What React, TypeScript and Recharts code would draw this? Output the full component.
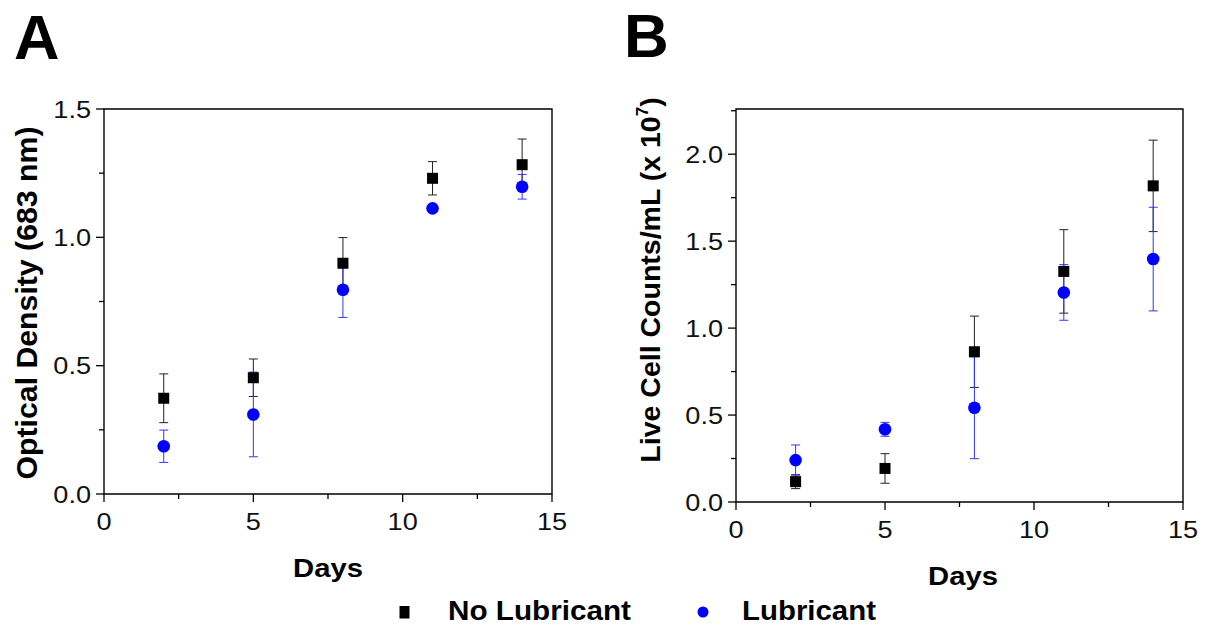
import React from "react";
import { ScatterChart, Scatter, XAxis, YAxis, ErrorBar, ReferenceArea } from "recharts";

// sampling days (shared by both panels)
const days = [2, 5, 8, 11, 14];

// panel A: optical density (683 nm)
const odNoLub = [0.373, 0.453, 0.899, 1.23, 1.283];
const odNoLubErr = [0.095, 0.073, 0.1, 0.065, 0.1];
const odLub = [0.186, 0.31, 0.796, 1.113, 1.197];
const odLubErr = [0.063, 0.165, 0.108, 0.015, 0.048];

// panel B: live cell counts/mL (x 10^7)
const cellNoLub = [0.117, 0.193, 0.864, 1.326, 1.818];
const cellNoLubErr = [0.04, 0.085, 0.205, 0.24, 0.263];
const cellLub = [0.241, 0.418, 0.542, 1.205, 1.397];
const cellLubErr = [0.087, 0.04, 0.293, 0.16, 0.298];

const xTicks = [0, 2.5, 5, 7.5, 10, 12.5, 15];
const odTicks = [0, 0.25, 0.5, 0.75, 1, 1.25, 1.5];
const cellTicks = [0, 0.25, 0.5, 0.75, 1, 1.25, 1.5, 1.75, 2, 2.25];

const FONT = '"Liberation Sans", Arial, sans-serif';
const BLUE = "#0000ff";

const toPoints = (ys: number[], errs: number[]) =>
  days.map((d, i) => ({ x: d, y: ys[i], err: errs[i] }));

// ticks are drawn by hand so minor ticks can be shorter and unlabeled
function renderXTick(props: any) {
  const { x, y, payload } = props;
  const v = payload.value;
  const major = v % 5 === 0;
  return (
    <g key={`xt-${v}`}>
      <line x1={x} x2={x} y1={y} y2={y + (major ? 8 : 5)} stroke="#000" strokeWidth={1.3} />
      {major && (
        <text
          transform={`translate(${x},${y + 36}) scale(1.13,1)`}
          textAnchor="middle"
          fontSize={24}
          fontFamily={FONT}
          fill="#111"
        >
          {v}
        </text>
      )}
    </g>
  );
}

function renderYTick(props: any) {
  const { x, y, payload } = props;
  const v = payload.value;
  const major = Math.abs(v * 2 - Math.round(v * 2)) < 1e-6;
  return (
    <g key={`yt-${v}`}>
      <line x1={x - (major ? 8 : 5)} x2={x} y1={y} y2={y} stroke="#000" strokeWidth={1.3} />
      {major && (
        <text
          transform={`translate(${x - 13},${y + 8.5}) scale(1.13,1)`}
          textAnchor="end"
          fontSize={24}
          fontFamily={FONT}
          fill="#111"
        >
          {v.toFixed(1)}
        </text>
      )}
    </g>
  );
}

const SquareDot = (p: any) => (
  <rect x={p.cx - 5.5} y={p.cy - 5.5} width={11} height={11} fill="#000" />
);
const CircleDot = (p: any) => <circle cx={p.cx} cy={p.cy} r={6.3} fill={BLUE} />;

function Panel({
  width,
  margin,
  yMax,
  yTicks,
  noLub,
  lub,
}: {
  width: number;
  margin: { top: number; right: number; bottom: number; left: number };
  yMax: number;
  yTicks: number[];
  noLub: { x: number; y: number; err: number }[];
  lub: { x: number; y: number; err: number }[];
}) {
  return (
    <ScatterChart width={width} height={627} margin={margin}>
      <XAxis
        type="number"
        dataKey="x"
        domain={[0, 15]}
        ticks={xTicks}
        interval={0}
        height={1}
        tickSize={0}
        tickMargin={0}
        tickLine={false}
        axisLine={false}
        tick={renderXTick}
      />
      <YAxis
        type="number"
        dataKey="y"
        domain={[0, yMax]}
        ticks={yTicks}
        interval={0}
        width={1}
        tickSize={0}
        tickMargin={0}
        tickLine={false}
        axisLine={false}
        tick={renderYTick}
        allowDataOverflow
      />
      <ReferenceArea x1={0} x2={15} y1={0} y2={yMax} fill="none" stroke="#000" strokeWidth={1.4} />
      <Scatter data={noLub} shape={SquareDot} isAnimationActive={false}>
        <ErrorBar dataKey="err" direction="y" width={4.5} stroke="#222" strokeWidth={1} />
      </Scatter>
      <Scatter data={lub} shape={CircleDot} isAnimationActive={false}>
        <ErrorBar dataKey="err" direction="y" width={4.5} stroke="#3434ff" strokeWidth={1} />
      </Scatter>
    </ScatterChart>
  );
}

export default function App() {
  return (
    <div
      style={{
        position: "absolute",
        left: 0,
        top: 0,
        width: 1215,
        height: 627,
        background: "#fff",
        fontFamily: FONT,
      }}
    >
      <div style={{ position: "absolute", left: 0, top: 0 }}>
        <Panel
          width={600}
          margin={{ top: 109, right: 48, bottom: 132, left: 103 }}
          yMax={1.5}
          yTicks={odTicks}
          noLub={toPoints(odNoLub, odNoLubErr)}
          lub={toPoints(odLub, odLubErr)}
        />
      </div>
      <div style={{ position: "absolute", left: 600, top: 0 }}>
        <Panel
          width={615}
          margin={{ top: 109, right: 32, bottom: 124, left: 135 }}
          yMax={2.26}
          yTicks={cellTicks}
          noLub={toPoints(cellNoLub, cellNoLubErr)}
          lub={toPoints(cellLub, cellLubErr)}
        />
      </div>
      <svg
        width={1215}
        height={627}
        style={{ position: "absolute", left: 0, top: 0, pointerEvents: "none" }}
        fontFamily={FONT}
        fontWeight="bold"
      >
        <text x={14} y={59} fontSize={63}>A</text>
        <text x={624} y={57} fontSize={62}>B</text>
        <text
          transform="translate(37,303) rotate(-90)"
          textAnchor="middle"
          fontSize={30}
          textLength={353}
          lengthAdjust="spacingAndGlyphs"
        >
          Optical Density (683 nm)
        </text>
        <text transform="translate(660,280) rotate(-90)" textAnchor="middle" fontSize={28.5}>
          Live Cell Counts/mL (x 10
          <tspan fontSize={17} dy={-12}>7</tspan>
          <tspan dy={12}>)</tspan>
        </text>
        <text x={293} y={577} fontSize={26.5} textLength={70} lengthAdjust="spacingAndGlyphs">
          Days
        </text>
        <text x={928} y={585} fontSize={26.5} textLength={70} lengthAdjust="spacingAndGlyphs">
          Days
        </text>
        <rect x={399.5} y={606} width={10} height={12.5} fill="#000" />
        <text x={448} y={620} fontSize={27} textLength={183} lengthAdjust="spacingAndGlyphs">
          No Lubricant
        </text>
        <circle cx={703} cy={612} r={5.5} fill={BLUE} />
        <text x={742} y={620} fontSize={27} textLength={134} lengthAdjust="spacingAndGlyphs">
          Lubricant
        </text>
      </svg>
    </div>
  );
}
